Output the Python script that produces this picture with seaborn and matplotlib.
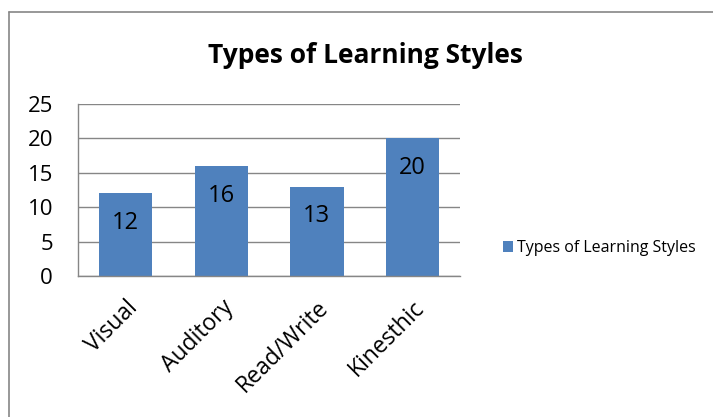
import seaborn as sns
import matplotlib.pyplot as plt
from matplotlib.lines import Line2D
from matplotlib.patches import Patch
import pandas as pd

styles = ['Visual', 'Auditory', 'Read/Write', 'Kinesthic']
counts = [12, 16, 13, 20]
series_name = 'Types of Learning Styles'

df = pd.DataFrame({'style': styles, 'count': counts})

sns.set_style('white')
plt.rcParams['font.family'] = ['Open Sans', 'DejaVu Sans']
plt.rcParams['text.color'] = 'black'
plt.rcParams['xtick.color'] = 'black'
plt.rcParams['ytick.color'] = 'black'

fig = plt.figure(figsize=(7.13, 4.17), dpi=100)
ax = fig.add_axes([0.1094, 0.338, 0.5358, 0.4126])

bar_color = '#4F81BD'
sns.barplot(data=df, x='style', y='count', color=bar_color, width=0.56,
            saturation=1, linewidth=0, ax=ax)

ax.set_ylim(0, 25)
ax.set_yticks(range(0, 26, 5))
ax.set_xlim(-0.5, len(styles) - 0.5)
ax.yaxis.grid(True, color='#868686', linewidth=1)
ax.set_axisbelow(True)
for s in ['top', 'right']:
    ax.spines[s].set_visible(False)
for s in ['left', 'bottom']:
    ax.spines[s].set_color('#868686')
    ax.spines[s].set_linewidth(1)
ax.set_xlabel('')
ax.set_ylabel('')
ax.tick_params(axis='y', labelsize=16, pad=18, length=0)
ax.tick_params(axis='x', labelsize=16.5, length=0, pad=14)
plt.setp(ax.get_xticklabels(), rotation=45, ha='right', rotation_mode='anchor')

for i, v in enumerate(counts):
    ax.text(i, v - 4.3, str(v), ha='center', va='center', fontsize=17, color='black')

fig.text(0.512, 0.866, series_name, ha='center', va='center',
         fontsize=19, fontweight='bold')

ax.legend(handles=[Patch(facecolor=bar_color, edgecolor='none', label=series_name)],
          loc='center left', bbox_to_anchor=(1.112, 0.163), frameon=False,
          fontsize=11.5, handlelength=0.62, handleheight=0.62, handletextpad=0.25,
          borderaxespad=0, borderpad=0)

fig.add_artist(Line2D([9 / 713, 1], [1 - 12 / 417, 1 - 12 / 417], color='#868686', linewidth=1.2))
fig.add_artist(Line2D([9 / 713, 9 / 713], [0, 1 - 12 / 417], color='#868686', linewidth=1.2))

fig.savefig('out.png', dpi=100)
